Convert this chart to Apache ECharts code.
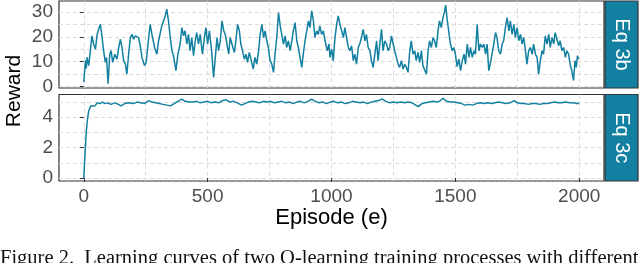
<!DOCTYPE html>
<html>
<head>
<meta charset="utf-8">
<script src="https://cdn.jsdelivr.net/npm/echarts@6/dist/echarts.min.js"></script>
<style>html,body{margin:0;padding:0;background:#fff}#c{width:640px;height:263px}</style>
</head>
<body>
<div id="c"></div>
<script>
// ---- data ----
const xMajorTicks = [0, 500, 1000, 1500, 2000];
const xGridValues = [0, 250, 500, 750, 1000, 1250, 1500, 1750, 2000];
const yTicksB = [0, 10, 20, 30];
const yGridB = [0, 5, 10, 15, 20, 25, 30];
const yTicksC = [0, 2, 4];
const yGridC = [0, 1, 2, 3, 4, 5];
const panelLabels = ["Eq 3b", "Eq 3c"];

const episodesB = [0,7,10,13,20,33,40,47,54,60,67,74,80,87,92,98,105,110,117,125,134,141,148,154,161,168,174,181,188,195,201,208,221,228,235,245,252,262,268,275,286,295,302,309,315,322,329,335,342,349,356,362,372,380,389,396,403,409,416,423,429,436,443,450,456,463,470,479,
487,493,500,507,516,524,531,538,544,551,558,565,571,578,585,591,598,608,614,621,628,634,641,648,655,661,668,675,684,691,698,706,712,719,726,732,739,745,752,759,766,772,779,786,793,799,806,813,819,826,833,840,846,853,860,866,873,880,886,893,900,907,913,920,927,933,940,947,953,960,967,974,983,990,
994,1001,1007,1014,1021,1027,1034,1041,1048,1054,1061,1068,1074,1081,1088,1094,1101,1108,1114,1121,1128,1135,1141,1148,1155,1161,1168,1175,1182,1188,1195,1202,1208,1215,1222,1229,1235,1242,1249,1255,1262,1269,1275,1282,1289,1295,1302,1309,1316,1322,1329,1336,1342,1349,1356,1363,1369,1376,1383,1390,1396,1403,1410,1416,1423,1430,1436,1443,1450,1457,1461,1466,1473,1480,1487,1494,1500,
1507,1514,1521,1528,1535,1541,1548,1555,1561,1568,1575,1581,1588,1595,1601,1608,1615,1622,1628,1635,1642,1648,1655,1662,1668,1675,1682,1689,1695,1702,1709,1716,1722,1729,1736,1742,1749,1756,1763,1769,1776,1783,1789,1796,1803,1810,1816,1823,1830,1836,1843,1850,1856,1863,1870,1877,1883,1890,1897,1903,1910,1917,1923,1930,1937,1944,1950,1957,1963,1970,1977,1983,1988,1993,1997];
const rewardB = [1.7,10.4,7.3,11.7,8.4,20.4,17.1,15,21,23,25,19.7,14.4,9.7,11.7,1.1,13,14.4,9.7,13,11,15.7,19,15.7,10.4,9,5,13,19.7,21,19,20.4,19.7,16.4,11.7,8.4,9.7,19.7,25,21,15.7,13,18.4,21.7,24.4,26.4,28.4,31.1,26.4,19.7,14.4,12.4,6.4,13,17.1,23.7,20.4,22.4,17.1,21,14.4,19.7,12.4,18.4,21.7,17.1,21,13,
19.7,23.7,17.1,22.4,14.4,3.7,11.7,19.7,14.4,18.4,26.4,22.4,21,17.1,13,19.7,17.1,13.7,18.4,25,22.4,17.1,14.4,11,13,9.7,13.7,11,7,11.7,9,14.4,21,25,19.7,22.4,18.4,15.7,10.4,9,5.7,13,19.7,29.7,24.4,21,17.1,20.4,15.7,18.4,14.4,18.4,22.4,25.7,18.4,15.7,11.7,7.7,13,18.4,22.4,26.4,23.7,30.4,26.4,19.7,22.4,21,24.4,21,22.4,18.4,14.4,17.1,
11.7,15,10.4,19.7,25,28.4,25,22.4,19.7,23.7,19.7,15.7,14.4,16.4,10.4,13,9,15.7,17.1,19.7,23,18.4,21,15.7,14.4,10.4,7.7,13,18.4,10.4,17.1,23,14.4,18.4,17.1,14.4,15.7,20.4,17.1,14.4,11.7,9,7.7,10.4,7,9,7.7,5.7,14.4,18.4,13,14.4,10.4,13.7,9.7,14.4,8.4,9,5,14.4,18.4,15.7,19.7,18.4,15.7,22.4,26.4,23.7,27.7,30.4,32.8,27.7,22.4,17.1,14.4,15.7,13,
8,11,6.4,10.4,13,9,17.1,11.7,15.7,11.7,14.4,13,25,14.4,17.1,15.7,17.1,13,17.1,6.4,9.7,13,17.1,21.7,19.7,14.4,13,17.1,18.4,23.7,27.7,22.4,26.4,21,25,19.7,23.7,18.4,21,17.1,19.7,14.4,9,14.4,15.7,13,17.1,13,11.7,5,10.4,14.4,13,20.4,17.1,21,15.7,19.7,17.1,21.7,22.4,16.4,18.4,14.4,15.7,11.7,14.4,13,9,6.4,2.4,10.4,7.7,12.4,11];

const episodesC = [0,5,10,15,20,28,35,45,55,65,75,85,95,110,125,140,150,165,180,200,215,230,245,262,275,290,305,320,335,350,365,380,395,410,425,440,455,470,485,500,515,530,545,560,575,590,605,620,637,650,665,680,695,710,725,740,755,770,785,800,815,830,845,860,875,890,905,920,935,950,965,980,995,1010,1025,1040,1055,1070,1085,1100,1115,1130,1145,1160,1175,1190,1205,1220,1235,1250,1265,1280,1295,1310,1325,1340,1350,1365,1380,1395,1410,1425,1440,1450,1465,1480,1495,1510,1525,1540,1555,1570,1585,1600,1615,1630,1645,1660,1675,1690,1705,1720,1738,1750,1765,1780,1795,1810,1825,1840,1855,1870,1885,1900,1915,1930,1945,1960,1975,1990,2000];
const rewardC = [0,1.6,3.0,3.9,4.4,4.75,4.85,4.75,4.95,4.9,5.0,4.9,4.95,4.85,4.95,4.85,4.75,4.9,4.95,4.9,5.0,4.95,4.9,5.1,5.0,4.95,4.9,4.85,4.8,4.75,4.9,5.05,5.2,5.05,5.0,5.0,5.05,4.95,5.0,5.05,4.95,5.0,4.95,5.1,5.15,5.0,5.05,4.95,4.8,4.9,5.0,5.05,5.0,4.95,5.05,5.0,5.05,4.95,5.0,5.05,4.95,5.0,4.9,5.0,5.05,4.95,5.05,5.2,5.05,4.95,5.0,4.9,5.0,5.05,4.95,5.0,4.9,4.95,5.05,5.0,4.95,5.0,4.9,5.0,5.05,5.1,5.2,5.05,4.95,5.0,4.95,5.0,4.95,5.0,4.95,4.8,4.7,4.9,4.95,5.0,5.05,5.0,5.1,5.25,5.05,5.0,5.0,4.95,4.9,4.8,4.85,4.8,4.9,4.95,4.9,4.95,4.9,4.95,5.0,4.95,4.9,4.95,5.1,4.95,4.9,4.9,4.85,4.9,4.9,4.85,4.9,4.9,4.95,5.0,4.95,4.95,5.0,4.95,4.95,4.9,4.9];

const xLabel = "Episode (e)";
const yLabel = "Reward";
const caption = "Figure 2.  Learning curves of two Q-learning training processes with different";

// ---- chart ----
const LINE = "#1380A1";
const GRIDC = "#dcdcdc";
const FONT = "Liberation Sans, Arial, sans-serif";
const panels = [
  {top: 1, height: 87, ymin: -0.6, ymax: 34.4, ticks: yTicksB, grid: yGridB},
  {top: 94.5, height: 86.5, ymin: -0.2, ymax: 5.5, ticks: yTicksC, grid: yGridC}
];
const L = 59, W = 545;
const plain = v => String(v);

const grids = [], xAxes = [], yAxes = [], series = [], graphics = [];
panels.forEach((p, i) => {
  grids.push({left: L, top: p.top, width: W, height: p.height, show: true,
    borderColor: "#333", borderWidth: 1.2, backgroundColor: "transparent"});
  xAxes.push({type: "value", gridIndex: i, min: -100, max: 2100, position: "bottom",
    axisLine: {show: false}, axisLabel: {show: false},
    axisTick: {show: false, customValues: xGridValues},
    splitLine: {show: true, lineStyle: {color: GRIDC, type: [4, 3], width: 1}}});
  xAxes.push({type: "value", gridIndex: i, min: -100, max: 2100, position: "bottom",
    axisLine: {show: false},
    axisLabel: {show: i === 1, customValues: xMajorTicks, formatter: plain, color: "#4d4d4d", fontSize: 19, fontFamily: FONT, margin: 6},
    axisTick: {show: i === 1, customValues: xMajorTicks, length: 4, lineStyle: {color: "#333"}},
    splitLine: {show: false},
    name: i === 1 ? xLabel : "", nameLocation: "middle", nameGap: 26,
    nameTextStyle: {fontSize: 22, color: "#000", fontFamily: FONT}});
  yAxes.push({type: "value", gridIndex: i, min: p.ymin, max: p.ymax, position: "left",
    axisLine: {show: false}, axisLabel: {show: false},
    axisTick: {show: false, customValues: p.grid},
    splitLine: {show: true, lineStyle: {color: GRIDC, type: [4, 3], width: 1}}});
  yAxes.push({type: "value", gridIndex: i, min: p.ymin, max: p.ymax, position: "left",
    axisLine: {show: false},
    axisLabel: {customValues: p.ticks, formatter: plain, color: "#4d4d4d", fontSize: 19, fontFamily: FONT, margin: 6},
    axisTick: {show: true, customValues: p.ticks, length: 4, lineStyle: {color: "#333"}},
    splitLine: {show: false}});
  graphics.push({type: "rect", shape: {x: 605, y: p.top, width: 33, height: p.height},
    style: {fill: LINE, stroke: "#333", lineWidth: 1.2}});
  graphics.push({type: "text", x: 621.5, y: p.top + p.height / 2, rotation: -Math.PI / 2,
    style: {text: panelLabels[i], fill: "#fff", font: "20px " + FONT, align: "center", verticalAlign: "middle"}});
});

series.push({type: "line", xAxisIndex: 1, yAxisIndex: 1, showSymbol: false, animation: false,
  lineStyle: {color: LINE, width: 1.5}, data: episodesB.map((e, k) => [e, rewardB[k]])});
series.push({type: "line", xAxisIndex: 3, yAxisIndex: 3, showSymbol: false, animation: false,
  lineStyle: {color: LINE, width: 1.5}, data: episodesC.map((e, k) => [e, rewardC[k]])});

graphics.push({type: "text", x: 14, y: 91, rotation: Math.PI / 2,
  style: {text: yLabel, fill: "#000", font: "21px " + FONT, align: "center", verticalAlign: "middle"}});
graphics.push({type: "text", x: 0, y: 248,
  style: {text: caption, fill: "#111", font: "20.5px Liberation Serif, Times New Roman, serif", align: "left", verticalAlign: "top"}});

const chart = echarts.init(document.getElementById("c"), null, {renderer: "canvas"});
chart.setOption({animation: false, grid: grids, xAxis: xAxes, yAxis: yAxes, series: series, graphic: graphics});
</script>
</body>
</html>
